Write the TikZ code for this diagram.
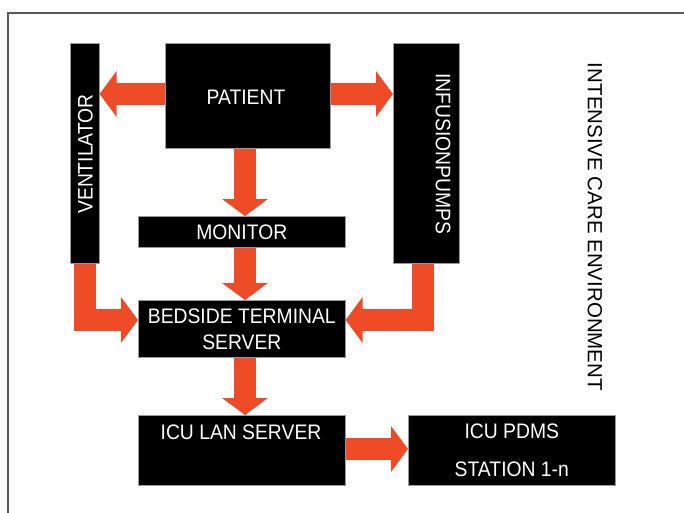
\documentclass[tikz,border=0pt]{standalone}
\usepackage{fontspec}
\setmainfont{Liberation Sans}
\newfontfamily\boxfont[FakeStretch=0.92]{Liberation Sans}
\usetikzlibrary{arrows.meta}
\definecolor{orng}{HTML}{EE4B26}
\definecolor{framegray}{HTML}{5A5A5A}
\begin{document}
\begin{tikzpicture}[x=1pt,y=-1pt,
  box/.style={fill=black, draw=black!40, line width=0.6pt, text=white, inner sep=0pt,
    font=\boxfont\fontsize{21}{26}\selectfont, align=center},
  boxlabel/.style={text=white, inner sep=0pt, font=\boxfont\fontsize{21}{26}\selectfont},
  flow/.style={draw=orng, line width=22pt, line join=miter,
    -{Triangle[width=45pt,length=17pt]}}]
\useasboundingbox (0,0) rectangle (684,513);
\fill[white] (0,0) rectangle (684,513);
\draw[framegray, line width=2pt] (8,513) -- (8,13) -- (684,13);

% boxes
\node[box, anchor=north west, minimum width=29pt, minimum height=220pt] (vent) at (70,43) {};
\node[boxlabel, rotate=90] (ventlbl) at (85.5,154) {VENTILATOR};
\node[box, anchor=north west, minimum width=165pt, minimum height=105pt] (pat) at (165,43) {};
\node[boxlabel] (patlbl) at (246,97) {PATIENT};
\node[box, anchor=north west, minimum width=66pt, minimum height=220pt] (inf) at (393,43) {};
\node[boxlabel, rotate=-90] (inflbl) at (443,154) {INFUSIONPUMPS};
\node[box, anchor=north west, minimum width=207pt, minimum height=31pt] (mon) at (138,216) {MONITOR};
\node[box, anchor=north west, minimum width=207pt, minimum height=57pt] (bed) at (138,300) {BEDSIDE TERMINAL\\SERVER};
\node[box, anchor=north west, minimum width=207pt, minimum height=70pt] (lan) at (138,415) {};
\node[boxlabel] (lanlbl) at (241,432) {ICU LAN SERVER};
\node[box, anchor=north west, minimum width=207pt, minimum height=70pt,
  font=\boxfont\fontsize{21}{38}\selectfont] (pdms) at (408,415) {ICU PDMS\\STATION 1-n};

\node[rotate=-90, inner sep=0pt, font=\fontsize{20.5}{24}\selectfont] (env) at (595,227) {INTENSIVE CARE ENVIRONMENT};

% connectors
\coordinate (cx) at (245,0);
\coordinate (vbend) at (85,320);
\coordinate (ibend) at (422.5,320);
\draw[flow] (pat.west |- 0,94) -- (vent.east |- 0,94);
\draw[flow] (pat.east |- 0,94) -- (inf.west |- 0,94);
\draw[flow] (cx |- pat.south) -- (cx |- mon.north);
\draw[flow] (cx |- mon.south) -- (cx |- bed.north);
\draw[flow] (vbend |- vent.south) -- (vbend) -- (bed.west |- vbend);
\draw[flow] (ibend |- inf.south) -- (ibend) -- (bed.east |- ibend);
\draw[flow] (cx |- bed.south) -- (cx |- lan.north);
\draw[flow] (lan.east |- 0,449) -- (pdms.west |- 0,449);
\end{tikzpicture}
\end{document}
